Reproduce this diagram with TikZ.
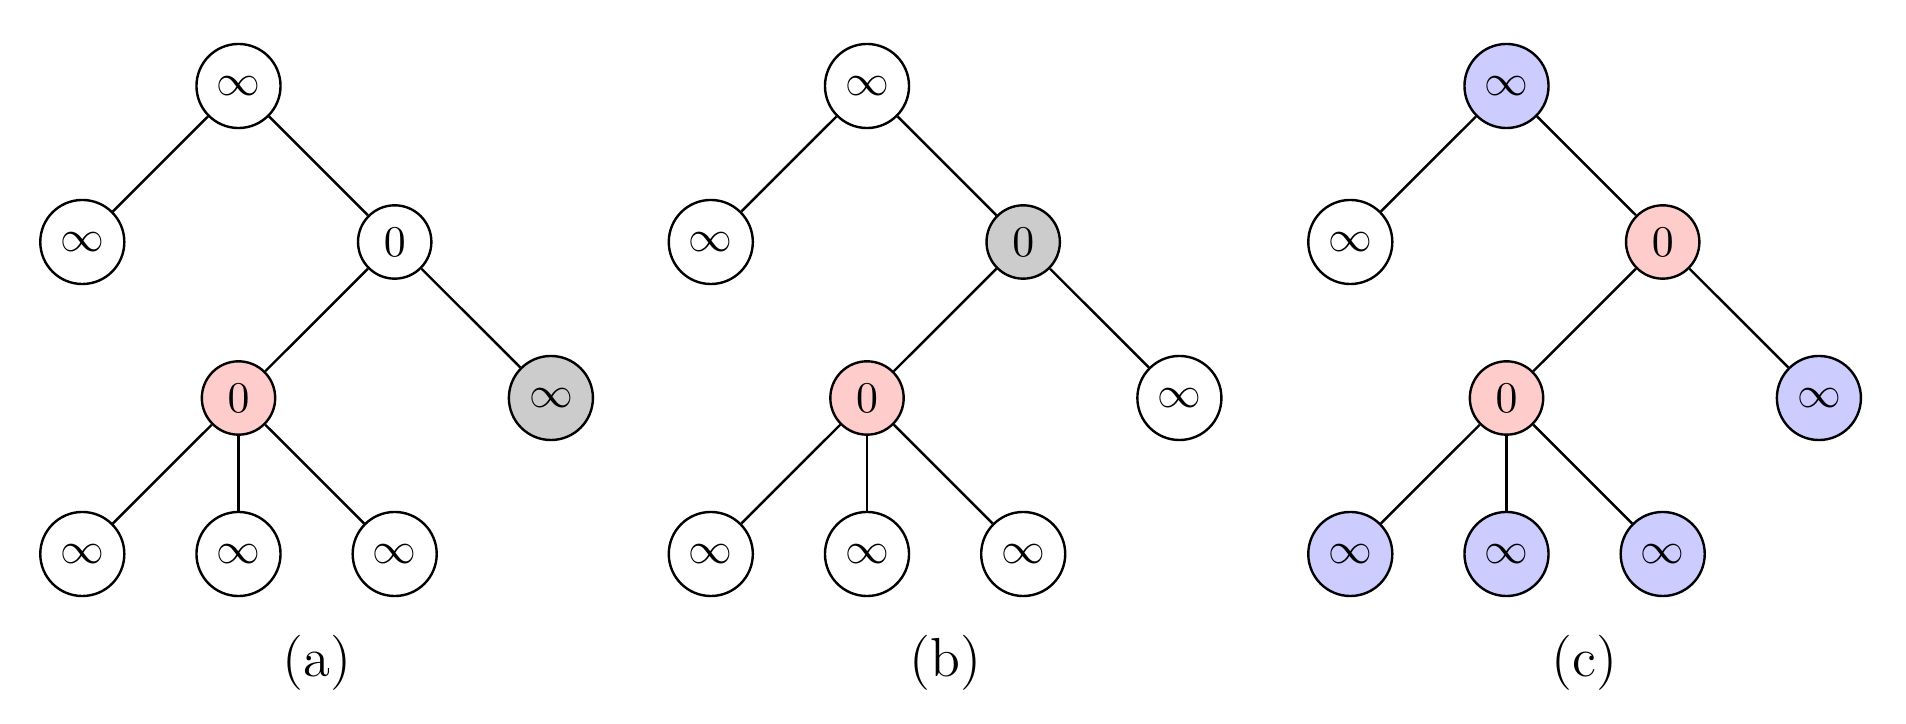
\documentclass[tikz,border=0pt]{standalone}
\tikzset{
  nd/.style={circle, draw, line width=0.6pt, inner sep=3.35pt, fill=white,
             font=\fontsize{10.5}{12}\selectfont},
  rednd/.style={nd, fill=red!20},
  greynd/.style={nd, fill=black!20},
  bluend/.style={nd, fill=blue!20},
  edge/.style={line width=0.6pt},
  lbl/.style={anchor=base, inner sep=0pt, font=\fontsize{13.75}{16}\selectfont}
}
\begin{document}
\begin{tikzpicture}[x=0.25pt, y=-0.25pt]
\useasboundingbox (0,0) rectangle (1906,724);
% ---------- (a)
\begin{scope}[shift={(0,0)}]
\node[nd] (ar) at (238.5,86) {$\infty$};
\node[nd] (al) at (82.3,242) {$\infty$};
\node[nd] (am) at (394.7,242) {$0$};
\node[rednd] (ac) at (238.5,398) {$0$};
\node[greynd] (ag) at (550.9,398) {$\infty$};
\node[nd] (ab1) at (82.3,554) {$\infty$};
\node[nd] (ab2) at (238.5,554) {$\infty$};
\node[nd] (ab3) at (394.7,554) {$\infty$};
\draw[edge] (ar) -- (al);
\draw[edge] (ar) -- (am);
\draw[edge] (am) -- (ac);
\draw[edge] (am) -- (ag);
\draw[edge] (ac) -- (ab1);
\draw[edge] (ac) -- (ab2);
\draw[edge] (ac) -- (ab3);
\node[lbl] (la) at (316.6,677) {(a)};
\end{scope}
% ---------- (b)
\begin{scope}[shift={(628.5,0)}]
\node[nd] (br) at (238.5,86) {$\infty$};
\node[nd] (bl) at (82.3,242) {$\infty$};
\node[greynd] (bm) at (394.7,242) {$0$};
\node[rednd] (bc) at (238.5,398) {$0$};
\node[nd] (bg) at (550.9,398) {$\infty$};
\node[nd] (bb1) at (82.3,554) {$\infty$};
\node[nd] (bb2) at (238.5,554) {$\infty$};
\node[nd] (bb3) at (394.7,554) {$\infty$};
\draw[edge] (br) -- (bl);
\draw[edge] (br) -- (bm);
\draw[edge] (bm) -- (bc);
\draw[edge] (bm) -- (bg);
\draw[edge] (bc) -- (bb1);
\draw[edge] (bc) -- (bb2);
\draw[edge] (bc) -- (bb3);
\node[lbl] (lb) at (316.6,677) {(b)};
\end{scope}
% ---------- (c)
\begin{scope}[shift={(1268,0)}]
\node[bluend] (cr) at (238.5,86) {$\infty$};
\node[nd] (cl) at (82.3,242) {$\infty$};
\node[rednd] (cm) at (394.7,242) {$0$};
\node[rednd] (cc) at (238.5,398) {$0$};
\node[bluend] (cg) at (550.9,398) {$\infty$};
\node[bluend] (cb1) at (82.3,554) {$\infty$};
\node[bluend] (cb2) at (238.5,554) {$\infty$};
\node[bluend] (cb3) at (394.7,554) {$\infty$};
\draw[edge] (cr) -- (cl);
\draw[edge] (cr) -- (cm);
\draw[edge] (cm) -- (cc);
\draw[edge] (cm) -- (cg);
\draw[edge] (cc) -- (cb1);
\draw[edge] (cc) -- (cb2);
\draw[edge] (cc) -- (cb3);
\node[lbl] (lc) at (316.6,677) {(c)};
\end{scope}
\end{tikzpicture}
\end{document}
